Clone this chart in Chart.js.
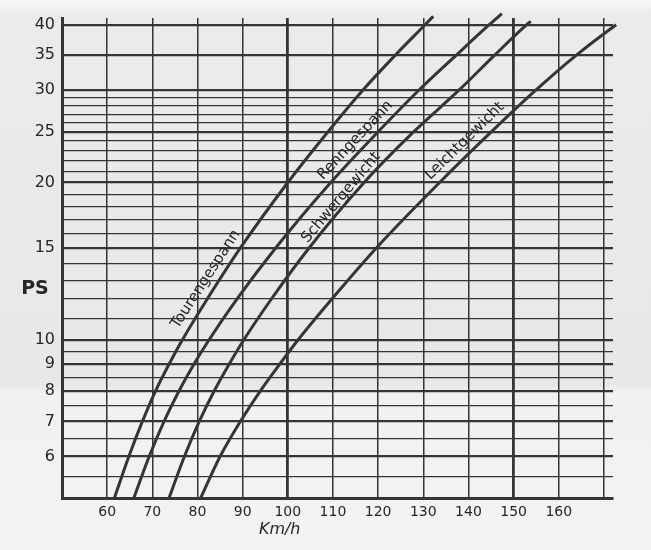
<!DOCTYPE html>
<html>
<head>
<meta charset="utf-8">
<script src="https://cdn.jsdelivr.net/npm/chart.js@4.4.1/dist/chart.umd.min.js"></script>
<style>
  html, body { margin:0; padding:0; background:#f1f1f1; }
  #wrap { width:651px; height:550px;
    background: linear-gradient(to bottom, #f8f8f8 0px, #ebebeb 14px, #e8e8e8 385px, #f1f1f1 393px, #f3f3f3 550px); }
  canvas { display:block; }
</style>
</head>
<body>
<div id="wrap"><canvas id="chart" width="651" height="550"></canvas></div>
<script>
(function(){
  'use strict';

  // curve readings: PS and the matching speed in km/h
  const psTouren   = [5, 6, 7, 8, 9, 10, 12, 15, 20, 25, 30, 35, 40, 41.5];
  const kmhTouren  = [61.6, 64.8, 67.8, 70.7, 73.7, 76.6, 82.2, 89.5, 100.0, 108.9, 116.6, 123.8, 130.4, 132.2];
  const psRenn     = [5, 6, 7, 8, 9, 10, 12, 15, 20, 25, 30, 35, 40, 42];
  const kmhRenn    = [65.9, 69.3, 72.6, 75.9, 79.2, 82.5, 88.8, 97.3, 109.5, 120.0, 129.0, 137.3, 144.6, 147.4];
  const psSchwer   = [5, 6, 7, 8, 9, 10, 12, 15, 20, 25, 30, 35, 40, 40.6];
  const kmhSchwer  = [73.7, 77.1, 80.4, 83.7, 87.0, 90.2, 96.4, 104.7, 116.9, 127.9, 137.9, 145.8, 152.9, 153.8];
  const psLeicht   = [5, 6, 7, 8, 9, 10, 12, 15, 20, 25, 30, 35, 40, 40.5];
  const kmhLeicht  = [80.7, 85.0, 89.5, 93.9, 98.2, 102.2, 109.8, 119.6, 133.6, 145.1, 154.9, 163.9, 172.7, 173.6];

  const curveNames = ['Tourengespann', 'Renngespann', 'Schwergewicht', 'Leichtgewicht'];

  // axes
  const speedTicks  = [50, 60, 70, 80, 90, 100, 110, 120, 130, 140, 150, 160, 170];
  const speedLabels = [60, 70, 80, 90, 100, 110, 120, 130, 140, 150, 160];
  const psTicks  = [5, 5.5, 6, 6.5, 7, 7.5, 8, 8.5, 9, 9.5, 10, 11, 12, 13, 14, 15, 16, 17, 18, 19,
                    20, 21, 22, 23, 24, 25, 26, 27, 28, 29, 30, 35, 40];
  const psLabels = [6, 7, 8, 9, 10, 15, 20, 25, 30, 35, 40];

  const INK = '#353535';
  const TEXT = '#262626';

  function toPoints(xs, ys){ return xs.map((x, i) => ({ x: x, y: ys[i] })); }

  const series = [
    toPoints(kmhTouren, psTouren),
    toPoints(kmhRenn, psRenn),
    toPoints(kmhSchwer, psSchwer),
    toPoints(kmhLeicht, psLeicht)
  ];

  // where each curve name sits: PS value along the curve and distance off the line
  const labelSpots = [
    { ds:0, ps:12.7, off:12 },
    { ds:1, ps:23.3, off:11 },
    { ds:2, ps:18.3, off:8 },
    { ds:3, ps:23.1, off:12 }
  ];

  function speedAt(points, ps){
    for(let i = 0; i < points.length - 1; i++){
      const a = points[i], b = points[i+1];
      if(ps >= a.y && ps <= b.y){
        const t = (Math.log(ps) - Math.log(a.y)) / (Math.log(b.y) - Math.log(a.y));
        return { x: a.x + t * (b.x - a.x), i: i };
      }
    }
    return { x: points[points.length-1].x, i: points.length - 2 };
  }

  const textPlugin = {
    id: 'textPlugin',
    afterDatasetsDraw(chart){
      const c = chart.ctx, xs = chart.scales.x, ys = chart.scales.y, area = chart.chartArea;
      c.save();
      c.fillStyle = TEXT;

      labelSpots.forEach(s => {
        const pts = series[s.ds];
        const hit = speedAt(pts, s.ps);
        const a = pts[hit.i], b = pts[hit.i+1];
        const dx = xs.getPixelForValue(b.x) - xs.getPixelForValue(a.x);
        const dy = ys.getPixelForValue(b.y) - ys.getPixelForValue(a.y);
        const len = Math.hypot(dx, dy);
        const px = xs.getPixelForValue(hit.x) + s.off * dy / len;
        const py = ys.getPixelForValue(s.ps) - s.off * dx / len;
        c.save();
        c.translate(px, py);
        c.rotate(Math.atan2(dy, dx));
        c.font = '15px "DejaVu Sans"';
        c.textAlign = 'center';
        c.textBaseline = 'middle';
        c.fillText(curveNames[s.ds], 0, 0);
        c.restore();
      });

      // axis names
      c.font = 'bold 19px "DejaVu Sans"';
      c.textAlign = 'center';
      c.textBaseline = 'middle';
      c.fillText('PS', area.left - 27, ys.getPixelForValue(12.5));

      c.font = 'italic 16px "DejaVu Sans"';
      c.fillText('Km/h', xs.getPixelForValue(98.2), area.bottom + 32);
      c.restore();
    }
  };

  new Chart(document.getElementById('chart'), {
    type: 'line',
    data: {
      datasets: series.map((pts, i) => ({
        label: curveNames[i],
        data: pts,
        borderColor: INK,
        borderWidth: 3,
        pointRadius: 0,
        fill: false,
        cubicInterpolationMode: 'monotone',
        clip: false
      }))
    },
    options: {
      responsive: false,
      animation: false,
      layout: { padding: { top: 18, right: 38, left: 0, bottom: 0 } },
      plugins: { legend: { display: false }, tooltip: { enabled: false } },
      scales: {
        x: {
          type: 'linear',
          min: 50, max: 172,
          afterBuildTicks(scale){ scale.ticks = speedTicks.map(v => ({ value: v })); },
          afterFit(scale){ scale.height = 52; },
          ticks: {
            autoSkip: false, maxRotation: 0, padding: 6,
            color: TEXT, font: { family: 'DejaVu Sans', size: 14 },
            callback: v => speedLabels.includes(v) ? String(v) : ''
          },
          grid: {
            drawTicks: false,
            color: INK,
            lineWidth: ctx => (ctx.tick && (ctx.tick.value === 100 || ctx.tick.value === 150)) ? 2.8 : 1.5
          },
          border: { display: true, color: INK, width: 3 }
        },
        y: {
          type: 'logarithmic',
          min: 5, max: 41.2,
          afterBuildTicks(scale){ scale.ticks = psTicks.map(v => ({ value: v })); },
          afterFit(scale){ scale.width = 62; },
          ticks: {
            autoSkip: false, padding: 7,
            color: TEXT, font: { family: 'DejaVu Sans', size: 16 },
            callback: v => psLabels.includes(v) ? String(v) : ''
          },
          grid: {
            drawTicks: false,
            color: INK,
            lineWidth: ctx => (ctx.tick && psLabels.includes(ctx.tick.value)) ? 2.2 : 1.2
          },
          border: { display: true, color: INK, width: 3 }
        }
      }
    },
    plugins: [textPlugin]
  });
})();
</script>
</body>
</html>
